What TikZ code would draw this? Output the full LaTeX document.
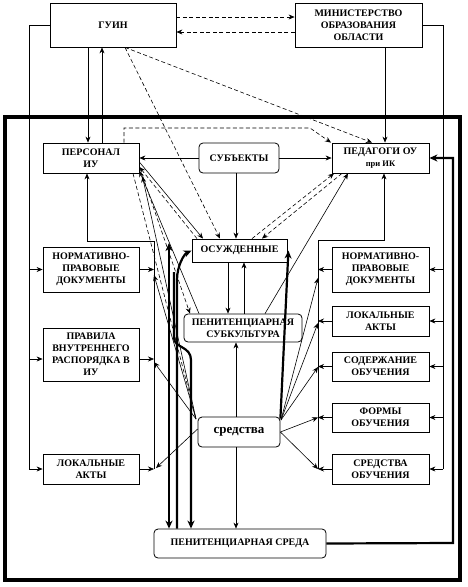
\documentclass[tikz,border=0pt]{standalone}
\usepackage{fontspec}
\setmainfont{Liberation Serif}
\usetikzlibrary{arrows.meta,calc}
\begin{document}
\begin{tikzpicture}[x=1pt,y=-1pt,
  box/.style={draw, line width=0.8pt, fill=white, align=center, inner sep=1pt, font=\bfseries\fontsize{10}{12}\selectfont},
  rbox/.style={box, rounded corners=4pt},
  ln/.style={line width=0.6pt},
  arr/.style={ln, -{Stealth[length=6pt,width=5pt,inset=2pt]}},
  dsh/.style={ln, dash pattern=on 4pt off 2.5pt},
  darr/.style={arr, dash pattern=on 4pt off 2.5pt},
  thk/.style={line width=2.2pt},
  tarr/.style={thk, -{Stealth[length=8pt,width=7pt,inset=2.5pt]}},
]
\useasboundingbox (0,0) rectangle (468,587);

% frame
\draw[line width=4pt] (5,117) rectangle (460,580);

% nodes
\node[box, minimum width=126pt, minimum height=44pt] (guin) at (113,25) {ГУИН};
\node[box, minimum width=127pt, minimum height=44pt] (mino) at (358.5,25) {МИНИСТЕРСТВО\\ОБРАЗОВАНИЯ\\ОБЛАСТИ};
\node[box, minimum width=96pt, minimum height=30pt] (pers) at (91,158) {ПЕРСОНАЛ\\ИУ};
\node[rbox, minimum width=80pt, minimum height=30pt] (subj) at (239,158) {СУБЪЕКТЫ};
\node[box, minimum width=97pt, minimum height=30pt] (ped) at (380.5,158) {ПЕДАГОГИ ОУ\\{\fontsize{8.5}{10}\selectfont при ИК}};
\node[box, minimum width=95pt, minimum height=23pt] (osu) at (239.5,250.5) {ОСУЖДЕННЫЕ};
\node[rbox, minimum width=118pt, minimum height=28pt] (sub) at (243,328) {ПЕНИТЕНЦИАРНАЯ\\СУБКУЛЬТУРА};
\node[rbox, minimum width=82pt, minimum height=30pt, font=\bfseries\fontsize{13}{15}\selectfont] (sred) at (239,432) {средства};
\node[rbox, minimum width=172pt, minimum height=29pt] (sreda) at (240,543.5) {ПЕНИТЕНЦИАРНАЯ СРЕДА};
\node[box, minimum width=96pt, minimum height=45pt] (nl) at (91,269.5) {НОРМАТИВНО-\\ПРАВОВЫЕ\\ДОКУМЕНТЫ};
\node[box, minimum width=96pt, minimum height=53pt] (pl) at (91,354.5) {ПРАВИЛА\\ВНУТРЕННЕГО\\РАСПОРЯДКА В\\ИУ};
\node[box, minimum width=96pt, minimum height=30pt] (ll) at (91,469) {ЛОКАЛЬНЫЕ\\АКТЫ};
\node[box, minimum width=97pt, minimum height=45pt] (nr) at (380.5,269.5) {НОРМАТИВНО-\\ПРАВОВЫЕ\\ДОКУМЕНТЫ};
\node[box, minimum width=97pt, minimum height=30pt] (lr) at (380.5,321) {ЛОКАЛЬНЫЕ\\АКТЫ};
\node[box, minimum width=97pt, minimum height=29pt] (cr) at (380.5,366.5) {СОДЕРЖАНИЕ\\ОБУЧЕНИЯ};
\node[box, minimum width=97pt, minimum height=29pt] (fr) at (380.5,417.5) {ФОРМЫ\\ОБУЧЕНИЯ};
\node[box, minimum width=97pt, minimum height=30pt] (srr) at (380.5,469) {СРЕДСТВА\\ОБУЧЕНИЯ};

% coordinates
\coordinate (lbT) at (29,25); \coordinate (lbB) at (29,469);
\coordinate (rbT) at (443,25); \coordinate (rbB) at (443,469);
\coordinate (ilT) at (87,241); \coordinate (ilR) at (154,241); \coordinate (ilB) at (154,469);
\coordinate (irT) at (384,240); \coordinate (irL) at (318,240); \coordinate (irB) at (318,469);
\coordinate (thA) at (453,543); \coordinate (thB) at (453,158);
\coordinate (dkA) at (124,128); \coordinate (dkB) at (310,128);
\coordinate (sl) at (196,419); \coordinate (sr) at (281,420);
\coordinate (tA) at (169,243);

% top connectors
\draw[darr] (guin.east |- 0,17) -- (mino.west |- 0,17);
\draw[darr] (mino.west |- 0,32) -- (guin.east |- 0,32);
\draw[ln] (guin.west) -- (lbT) -- (lbB);
\draw[arr] (lbB) -- (ll.west);
\draw[arr] (lbT |- nl.west) -- (nl.west);
\draw[arr] (lbT |- 0,359) -- (pl.west |- 0,359);
\draw[ln] (mino.east) -- (rbT) -- (rbB);
\draw[arr] (rbB) -- (srr.east);
\draw[arr] (rbT |- nr.east) -- (nr.east);
\draw[arr] (rbT |- lr.east) -- (lr.east);
\draw[arr] (rbT |- cr.east) -- (cr.east);
\draw[arr] (rbT |- fr.east) -- (fr.east);
\draw[arr] (guin.south -| 88,0) -- (pers.north -| 88,0);
\draw[arr] (pers.north -| 102,0) -- (guin.south -| 102,0);
\draw[arr] (mino.south -| 385,0) -- (ped.north -| 385,0);
\draw[darr] (guin.south -| 125,0) -- (osu.north -| 220,0);
\draw[darr] (guin.south -| 125,0) -- (ped.north -| 372,0);
\draw[darr] (pers.north -| 124,0) -- (dkA) -- (dkB) -- (ped.north -| 331,0);

% subjects
\draw[arr] (subj.west) -- (pers.east);
\draw[arr] (subj.east) -- (ped.west);
\draw[arr] (subj.south -| 236,0) -- (osu.north -| 236,0);

% inner buses
\draw[arr] (ilB) -- (ilR) -- (ilT) -- (pers.south -| ilT);
\draw[arr] (nl.east) -- (ilR |- nl.east);
\draw[arr] (pl.east |- 0,359) -- (ilR |- 0,359);
\draw[arr] (ll.east) -- (ilB);
\draw[arr] (irB) -- (irL) -- (irT) -- (ped.south -| irT);
\draw[arr] (nr.west) -- (irL |- nr.west);
\draw[arr] (lr.west) -- (irL |- lr.west);
\draw[arr] (cr.west) -- (irL |- cr.west);
\draw[arr] (fr.west) -- (irL |- fr.west);
\draw[arr] (srr.west) -- (irB);

% thick right
\draw[tarr] (sreda.east) -- (thA) -- (thB) -- (ped.east);

% centre column
\draw[arr] (osu.south -| 228,0) -- (sub.north -| 228,0);
\draw[arr] (sub.north -| 244,0) -- (osu.south -| 244,0);
\draw[arr] (sred.north -| 236,0) -- (sub.south -| 236,0);
\draw[arr] (sred.south -| 236,0) -- (sreda.north -| 236,0);

% osu - ped dashed
\draw[darr] (osu.north -| 252,0) -- (ped.south -| 334,0);
\draw[darr] (ped.south -| 342,0) -- (osu.north -| 262,0);
\draw[arr] (sub.north -| 265,0) -- (ped.south -| 348,0);

% pers - osu / sub
\draw[arr] (pers.east |- 0,162) -- (osu.north -| 203,0);
\draw[darr] (osu.north -| 197,0) -- (pers.east |- 0,167);
\draw[darr] ($(pers.south east)+(3,2)$) -- (sub.north -| 190,0);
\draw[arr] (sub.north -| 199,0) -- (pers.east |- 0,171);
\draw[dsh] (pers.south -| 133,0) -- (sl);

% from sredstva, left
\draw[arr] (sl) -- ($(pers.south east)+(3,3)$);
\draw[arr] (sl) -- (ilR |- 0,275);
\draw[arr] (sl) -- (ilR |- 0,362);
\draw[arr] ($(sred.west)+(0,-3)$) -- ($(ilB)+(2,-1)$);

% from sredstva, right
\draw[arr] (sr) -- (irL |- 0,278);
\draw[arr] (sr) -- (irL |- 0,323);
\draw[arr] (sr) -- (irL |- 0,367);
\draw[arr] (sred.east) -- (irL |- fr.west);
\draw[arr] (sred.east) -- (irB);

% thick lines
\draw[tarr] ($(sred.north east)+(0,2)$) -- ($(osu.east)+(1,0)$);
\draw[thk, {Stealth[length=8pt,width=7pt,inset=2.5pt]}-{Stealth[length=8pt,width=7pt,inset=2.5pt]}] (tA) -- (sreda.north -| tA);
\draw[tarr] (sreda.north -| 177,0) -- (177,280) .. controls (177,266) and (184,254) .. (osu.west);
\draw[tarr] (174,272) -- (174,338) .. controls (174,348) and (191,346) .. (191,360) -- (sreda.north -| 191,0);
\end{tikzpicture}
\end{document}
